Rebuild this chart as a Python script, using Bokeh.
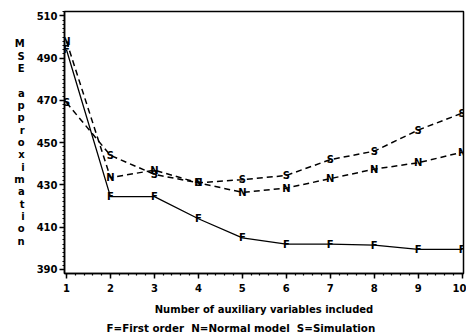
from bokeh.plotting import figure
from bokeh.models import Range1d, FixedTicker, Title
from bokeh.core.properties import value
from bokeh.embed import file_html
from bokeh.resources import INLINE

x = [1, 2, 3, 4, 5, 6, 7, 8, 9, 10]
first_order = [494, 424.5, 424.5, 414, 405, 402, 402, 401.5, 399.5, 399.5]
normal_model = [498, 433.5, 437, 431, 426.5, 428.5, 433, 437.5, 440.5, 445.5]
simulation = [469, 444, 435, 431, 432.5, 434.5, 442, 446, 456, 464]
y_ticks = [390, 410, 430, 450, 470, 490, 510]
x_ticks = [1, 2, 3, 4, 5, 6, 7, 8, 9, 10]
ylabel = "MSE approximation"
xlabel = "Number of auxiliary variables included"
legend_text = "F=First order\u00a0\u00a0N=Normal model\u00a0\u00a0S=Simulation"

FONT = "DejaVu Sans"

p = figure(width=466, height=336, output_backend="svg", toolbar_location=None,
           x_range=Range1d(0.955, 10.03), y_range=Range1d(388.1, 512.1),
           min_border_left=64, min_border_right=3, min_border_top=11, min_border_bottom=62)
p.grid.visible = False
p.outline_line_color = "black"
p.outline_line_width = 1.5

for ax in (p.xaxis[0], p.yaxis[0]):
    ax.axis_line_width = 1.5
    ax.axis_line_color = "black"
    ax.major_tick_line_width = 1.5
    ax.major_tick_out = 5
    ax.major_tick_in = 0
    ax.minor_tick_out = 2
    ax.minor_tick_in = 0
    ax.minor_tick_line_width = 1.2
    ax.major_label_text_font = FONT
    ax.major_label_text_font_style = "bold"
    ax.major_label_text_font_size = "10px"
    ax.major_label_text_color = "black"
    ax.axis_label_text_font = FONT
    ax.axis_label_text_font_style = "bold"
    ax.axis_label_text_font_size = "10px"
    ax.axis_label_text_color = "black"

p.xaxis.ticker = FixedTicker(ticks=x_ticks,
                             minor_ticks=[v / 5 for v in range(5, 51)])
p.yaxis.ticker = FixedTicker(ticks=y_ticks,
                             minor_ticks=list(range(388, 513, 2)))
p.xaxis.major_label_standoff = 5
p.yaxis.major_label_standoff = 2

p.xaxis.axis_label = xlabel
p.xaxis.axis_label_standoff = 9
p.xaxis.axis_label_text_line_height = 1.0

p.yaxis.axis_label = "\n".join(ch if ch != " " else "\u00a0" for ch in ylabel)
p.yaxis.axis_label_orientation = "horizontal"
p.yaxis.axis_label_text_line_height = 1.12
p.yaxis.axis_label_standoff = 9

p.add_layout(Title(text=legend_text, align="left", offset=42, standoff=5,
                   text_line_height=1.0,
                   text_font=FONT, text_font_style="bold",
                   text_font_size="10.3px", text_color="black"), "below")

# series
p.line(x, first_order, line_color="black", line_width=1.3)
p.line(x, normal_model, line_color="black", line_width=1.5, line_dash="6 4")
p.line(x, simulation, line_color="black", line_width=1.5, line_dash="6 4")

for ys, letter in ((first_order, "F"), (normal_model, "N"), (simulation, "S")):
    p.text(x, ys, text=[letter] * len(x), text_align="center",
           text_baseline="middle", text_font=value(FONT),
           text_font_style="bold", text_font_size="10px", text_color="black")

open("out.html", "w").write(file_html(p, INLINE))
